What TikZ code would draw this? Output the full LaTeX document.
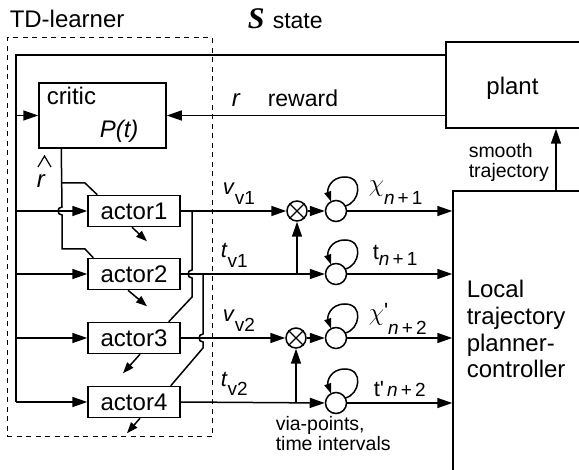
\documentclass[tikz,border=0pt]{standalone}
\usepackage{fontspec}
\setmainfont{Liberation Sans}
\newfontfamily\plainsans{Liberation Sans}
\newfontfamily\timesfam{Liberation Serif}
\usetikzlibrary{arrows.meta,calc}

% self-loop drawn above an integrator circle
\newcommand\intloop[1]{%
  \draw[looptip] ($(#1)+(9,-5)$) .. controls ($(#1)+(24,-8)$) and ($(#1)+(28,-34)$) .. ($(#1)+(9,-34)$)
    .. controls ($(#1)+(-6,-34)$) and ($(#1)+(-9,-21)$) .. ($(#1)+(-5,-9.5)$);}

\begin{document}
\begin{tikzpicture}[x=1pt,y=-1pt,line width=1.5pt,
  box/.style={draw,rectangle,inner sep=0pt},
  actorbox/.style={box,minimum width=92pt,minimum height=31pt,font=\fontsize{24}{24}\selectfont},
  integ/.style={draw,circle,minimum size=21pt,inner sep=0pt},
  mult/.style={draw,circle,minimum size=20pt,inner sep=0pt},
  tip/.style={-{Triangle[length=15pt,width=10pt]}},
  looptip/.style={-{Triangle[length=10pt,width=7pt]}},
  outtip/.style={-{Triangle[length=11pt,width=8pt]}},
  txt/.style={inner sep=0pt,anchor=base west},
  big/.style={font=\fontsize{24}{26.7}\selectfont},
  lab/.style={font=\fontsize{22}{22}\selectfont},
  small/.style={font=\fontsize{19.5}{20}\selectfont}
]
\useasboundingbox (0,0) rectangle (579,470);
\fill[white] (0,0) rectangle (579,470);

% learner frame
\node[draw,rectangle,inner sep=0pt,line width=1pt,dash pattern=on 5pt off 4.5pt,
      minimum width=205pt,minimum height=399pt] (frame) at (109.5,237.5) {};
\node[txt,big] (tdl) at (9,27.7) {TD-learner};

% blocks
\node[box,minimum width=127pt,minimum height=65pt] (critic) at (102.5,115.5) {};
\node[txt,big] (crit) at (46,105) {critic};
\node[txt,big,font=\fontsize{24}{24}\selectfont\itshape] (pt) at (99,138) {P(t)};

\node[actorbox] (a1) at (134,211) {actor1};
\node[actorbox] (a2) at (134,274) {actor2};
\node[actorbox] (a3) at (134,338) {actor3};
\node[actorbox] (a4) at (134,402) {actor4};

\node[box,minimum width=136pt,minimum height=86pt] (plant) at (514,85) {};
\node[inner sep=0pt,anchor=base,big] (plt) at (512.5,95) {plant};

\node[box,minimum width=147pt,minimum height=299pt] (ltc) at (526.5,340.5) {};
\node[inner sep=0pt,anchor=north west,align=left,big] (ltct) at (466,279.6)
  {Local\\trajectory\\planner-\\controller};

% multipliers and integrators
\node[mult] (m1) at (297,211) {};
\node[mult] (m2) at (296,338) {};
\draw[line width=1.1pt] (m1.north west) -- (m1.south east) (m1.north east) -- (m1.south west);
\draw[line width=1.1pt] (m2.north west) -- (m2.south east) (m2.north east) -- (m2.south west);
\node[integ] (c1) at (336,211) {};
\node[integ] (c2) at (336,274) {};
\node[integ] (c3) at (336,338) {};
\node[integ] (c4) at (336,403) {};
\intloop{c1}\intloop{c2}\intloop{c3}\intloop{c4}

% state bus on the left
\coordinate (busT) at (16,55);
\coordinate (busB) at (16,402);
\draw (plant.west |- busT) -- (busT) -- (busB);
\draw[tip] (busT |- critic.west) -- (critic.west);
\foreach \a in {a1,a2,a3,a4} \draw[tip] (busT |- \a.west) -- (\a.west);

% reward
\draw[tip] (plant.west |- critic.east) -- (critic.east);

% TD error from the critic to the actors
\coordinate (rv) at ($(critic.south west)+(23,0)$);
\draw (rv) -- (62,207) .. controls (56.7,207) and (56.7,215) .. (62,215)
  -- (62,249) -- (85,249) -- ($(a2.north west)+(6,0)$);
\draw (62,183) -- (85,183) -- ($(a1.north west)+(10,0)$);
\node[txt,font=\fontsize{24}{24}\selectfont\itshape] (rh) at (36,188) {r};
\draw[line width=1.2pt] (38,167) -- (44.5,156) -- (51,167);

% actor outputs
\draw[tip] (a1.east) -- (m1.west);
\draw[tip] (a2.east) -- (c2.west);
\draw[tip] (a3.east) -- (m2.west);
\draw[tip] (a4.east) -- (c4.west);
\coordinate (j1) at (192,211);
\coordinate (j2) at (203,274);
\draw (j1) -- (192,270) .. controls (186.7,270) and (186.7,278) .. (192,278)
  -- (192,297) -- ($(a3.north east)+(-12,0)$);
\draw (j2) -- (203,334) .. controls (197.7,334) and (197.7,342) .. (203,342)
  -- (203,348) -- ($(a4.north east)+(-10,0)$);

% exploration outputs
\draw[outtip] ($(a1.south)+(-2,0)$) -- ($(a1.south)+(13,14)$);
\draw[outtip] ($(a2.south)+(-6,0)$) -- ($(a2.south)+(13,16)$);
\draw[outtip] ($(a3.south)+(6,0)$) -- ($(a3.south)+(-11,19)$);
\draw[outtip] ($(a4.south)+(6,0)$) -- ($(a4.south)+(-7,15)$);

% multiplier and integrator wiring
\draw[tip] (m1.east) -- (c1.west);
\draw[tip] (m2.east) -- (c3.west);
\draw[tip] (m1.south |- a2.east) -- (m1.south);
\draw[tip] (m2.south |- a4.east) -- (m2.south);
\foreach \c in {c1,c2,c3,c4} \draw[tip] (\c.east) -- (\c.east -| ltc.west);

% smooth trajectory to the plant
\draw[tip] (ltc.north -| 556,0) -- (plant.south -| 556,0);
\node[inner sep=0pt,anchor=north west,align=left,small] (smt) at (468,142.8) {smooth\\trajectory};

% labels
\node[txt,font=\fontsize{30}{30}\selectfont\timesfam\bfseries\itshape] (sym) at (247,29) {S};
\node[txt,font=\fontsize{23}{23}\selectfont] (st) at (272,29) {state};
\node[txt,font=\fontsize{24}{24}\selectfont\itshape] (rl) at (231,107) {r};
\node[txt,font=\fontsize{23}{23}\selectfont] (rw) at (267,107) {reward};

\node[txt,lab] (lv1) at (222,195) {\textit{v}\raisebox{-10pt}{\fontsize{19}{19}\selectfont v1}};
\node[txt,lab] (lt1) at (220,258) {\textit{t}\raisebox{-10pt}{\fontsize{19}{19}\selectfont v1}};
\node[txt,lab] (lv2) at (222,322) {\textit{v}\raisebox{-10pt}{\fontsize{19}{19}\selectfont v2}};
\node[txt,lab] (lt2) at (220,387) {\textit{t}\raisebox{-9pt}{\fontsize{19}{19}\selectfont v2}};

\node[txt,font=\fontsize{28}{28}\selectfont] (x1) at (368,192)
  {$\chi$\raisebox{-13pt}{\fontsize{19}{19}\selectfont\plainsans\textit{n}\,+\,1}};
\node[txt,lab] (y1) at (372,260)
  {t\raisebox{-6pt}{\fontsize{19}{19}\selectfont\plainsans\textit{n}\,+\,1}};
\node[txt,font=\fontsize{28}{28}\selectfont] (x2) at (368,321)
  {$\chi$\raisebox{2pt}{\fontsize{22}{22}\selectfont\plainsans '}\raisebox{-14pt}{\fontsize{19}{19}\selectfont\plainsans\textit{n}\,+\,2}};
\node[txt,lab] (y2) at (373,397)
  {t{\plainsans '}{\fontsize{19}{19}\selectfont\plainsans\,\textit{n}\,+\,2}};

\node[inner sep=0pt,anchor=north west,align=left,small] (via) at (275,416)
  {via-points,\\time intervals};
\end{tikzpicture}
\end{document}
